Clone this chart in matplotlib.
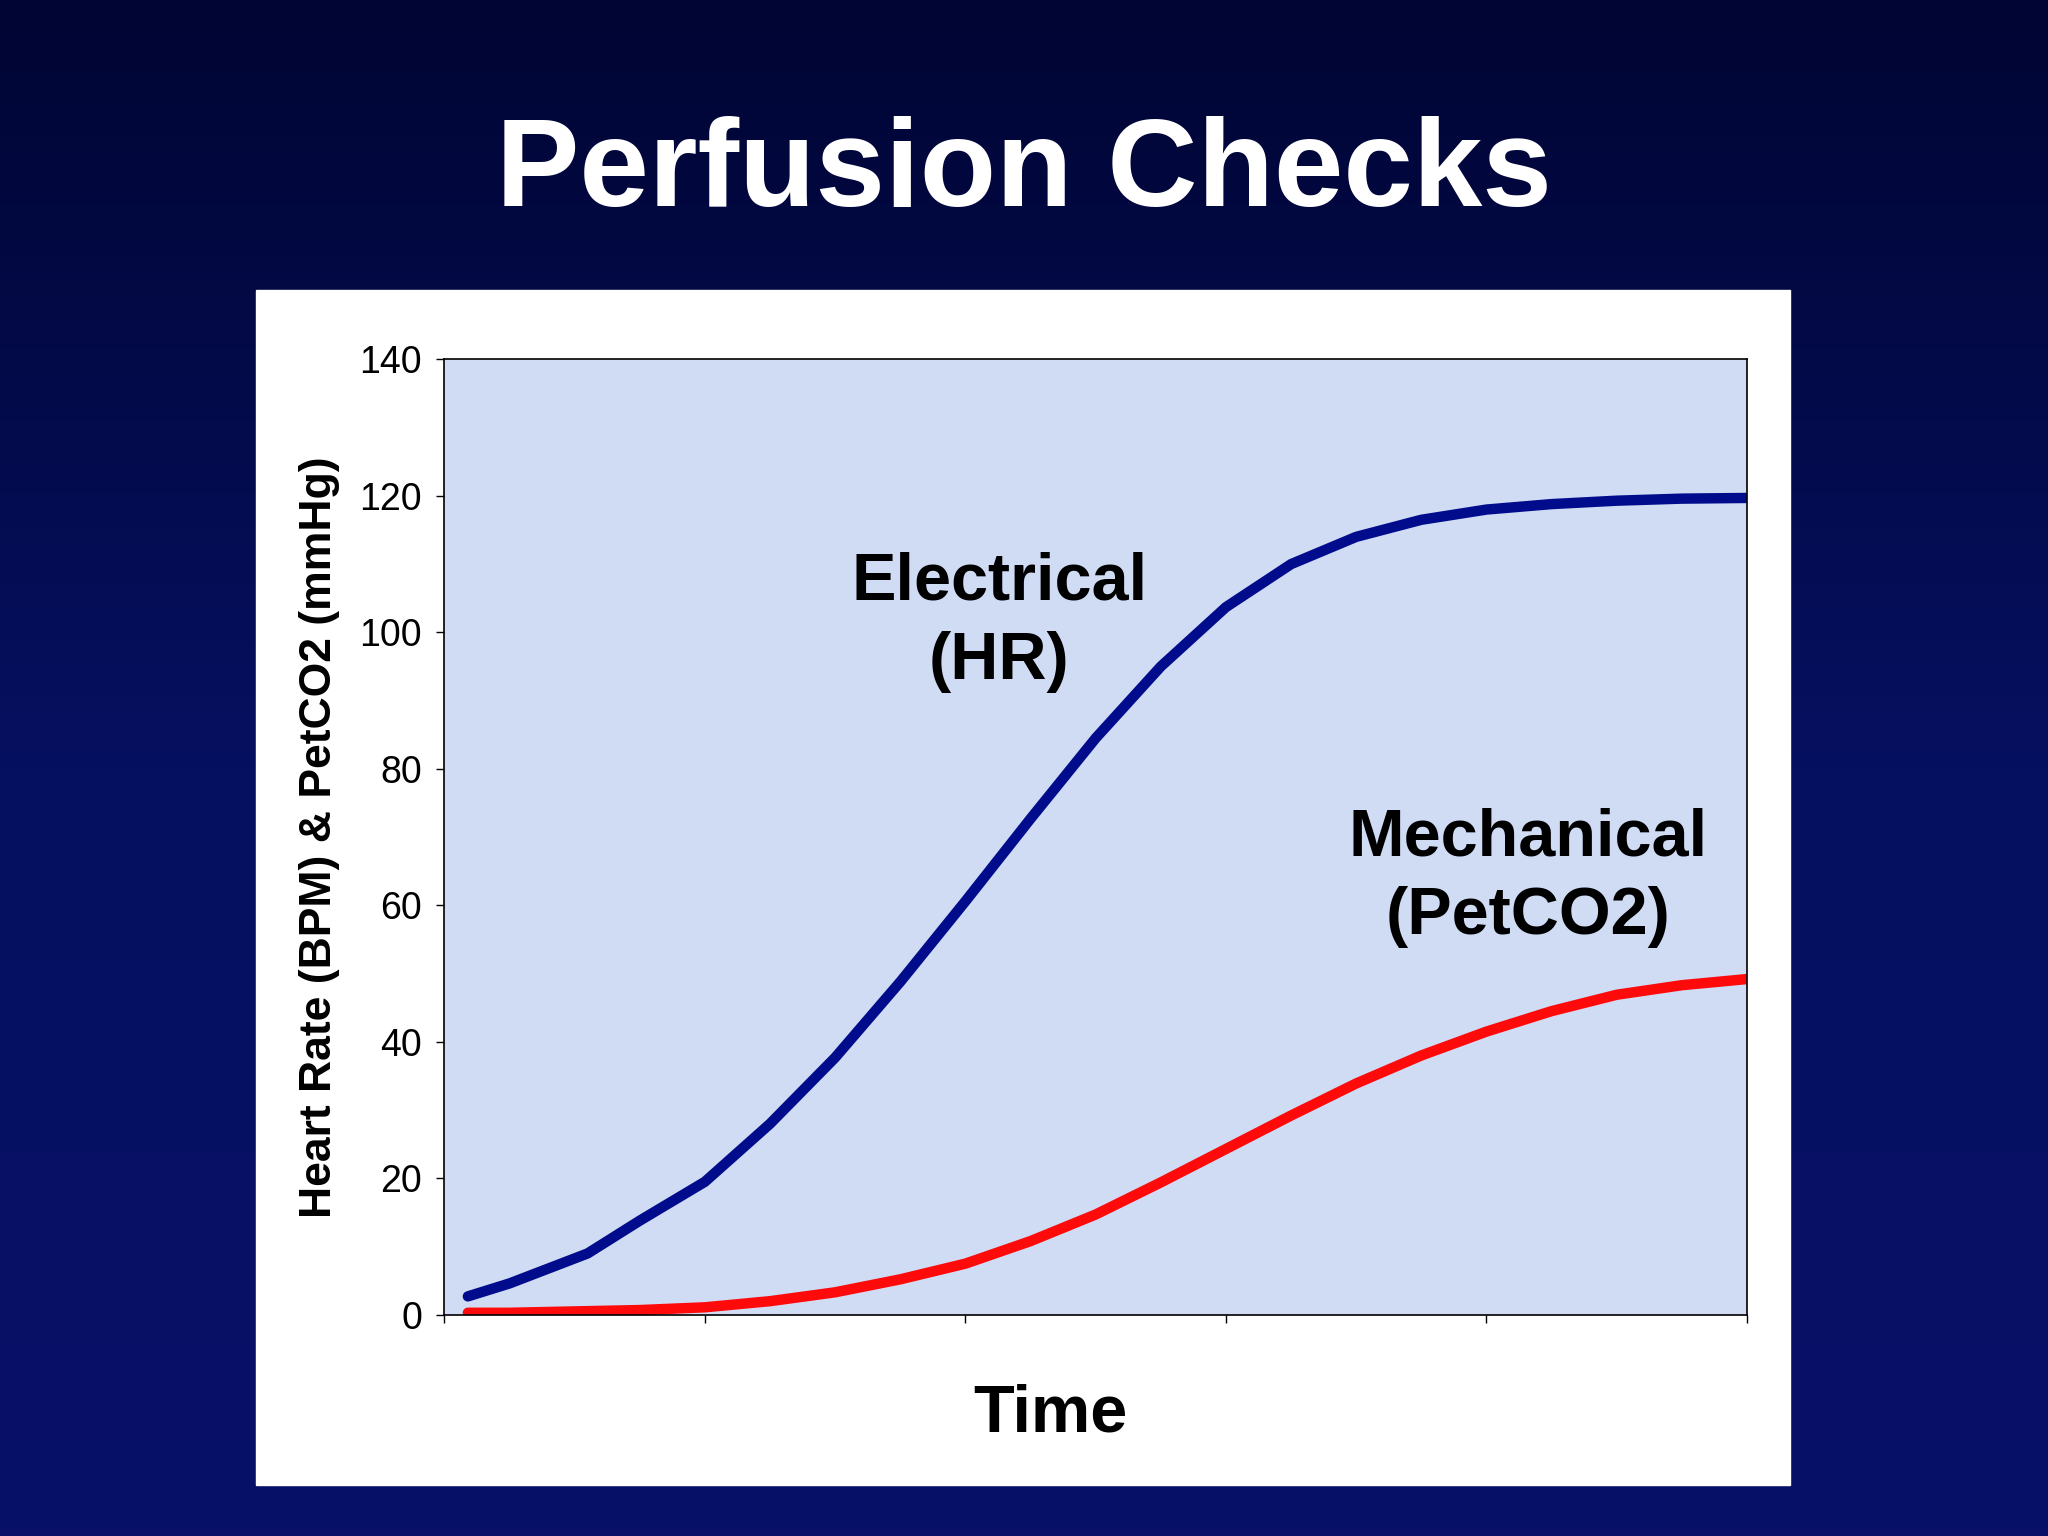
import matplotlib
matplotlib.use("Agg")
import matplotlib.pyplot as plt
import numpy as np
from matplotlib.patches import Rectangle
from matplotlib.colors import LinearSegmentedColormap

time_hr = [0.09, 0.25, 0.55, 0.75, 1.0, 1.25, 1.5, 1.75, 2.0, 2.25, 2.5, 2.75, 3.0,
           3.25, 3.5, 3.75, 4.0, 4.25, 4.5, 4.75, 5.0]
hr_values = [2.7, 4.6, 9.0, 13.8, 19.5, 28.0, 37.7, 48.8, 60.6, 72.7, 84.5, 95.0, 103.7,
             110.0, 114.0, 116.5, 118.0, 118.8, 119.3, 119.6, 119.7]
time_co2 = [0.09, 0.25, 0.5, 0.75, 1.0, 1.25, 1.5, 1.75, 2.0, 2.25, 2.5, 2.75, 3.0,
            3.25, 3.5, 3.75, 4.0, 4.25, 4.5, 4.75, 5.0]
co2_values = [0.3, 0.3, 0.5, 0.7, 1.1, 2.0, 3.3, 5.2, 7.5, 10.8, 14.7, 19.4, 24.3,
              29.2, 33.9, 38.0, 41.5, 44.5, 46.9, 48.3, 49.2]
y_ticks = [0, 20, 40, 60, 80, 100, 120, 140]

fig = plt.figure(figsize=(20.48, 15.36), dpi=100)
bg = fig.add_axes([0, 0, 1, 1])
grad = np.linspace(0, 1, 256).reshape(-1, 1)
cm = LinearSegmentedColormap.from_list("g", ["#000533", "#061060", "#081068"])
bg.imshow(grad, aspect="auto", cmap=cm, extent=[0, 1, 0, 1], origin="upper")
bg.set_axis_off()
bg.add_patch(Rectangle((0.125, 0.033), 0.749, 0.778, color="white", transform=bg.transAxes, zorder=2))

fig.text(0.5, 0.887, "Perfusion Checks", color="white", fontsize=90, fontweight="bold",
         ha="center", va="center", family="Liberation Sans")

ax = fig.add_axes([0.217, 0.144, 0.636, 0.622])
ax.set_facecolor("#d0dcf4")
ax.plot(time_hr, hr_values, color="#000c8c", lw=7.5, solid_capstyle="round")
ax.plot(time_co2, co2_values, color="#ff0a0a", lw=7.5, solid_capstyle="round")
ax.set_xlim(0, 5)
ax.set_ylim(0, 140)
ax.set_yticks(y_ticks)
ax.set_xticks([0, 1, 2, 3, 4, 5])
ax.set_xticklabels([])
for lab in ax.get_yticklabels():
    lab.set_fontsize(27); lab.set_family("Liberation Sans")
ax.tick_params(length=6, width=1, pad=10)
for s in ax.spines.values():
    s.set_linewidth(1.2)
ax.set_ylabel("Heart Rate (BPM) & PetCO2 (mmHg)", fontsize=32, fontweight="bold",
              family="Liberation Sans", labelpad=14)
ax.text(2.13, 101.5, "Electrical\n(HR)", fontsize=48, fontweight="bold", ha="center",
        va="center", family="Liberation Sans", linespacing=1.35)
ax.text(4.16, 64, "Mechanical\n(PetCO2)", fontsize=48, fontweight="bold", ha="center",
        va="center", family="Liberation Sans", linespacing=1.35)
fig.text(0.513, 0.079, "Time", fontsize=48, fontweight="bold", ha="center", va="center",
         family="Liberation Sans")
fig.savefig("out.png", dpi=100)
